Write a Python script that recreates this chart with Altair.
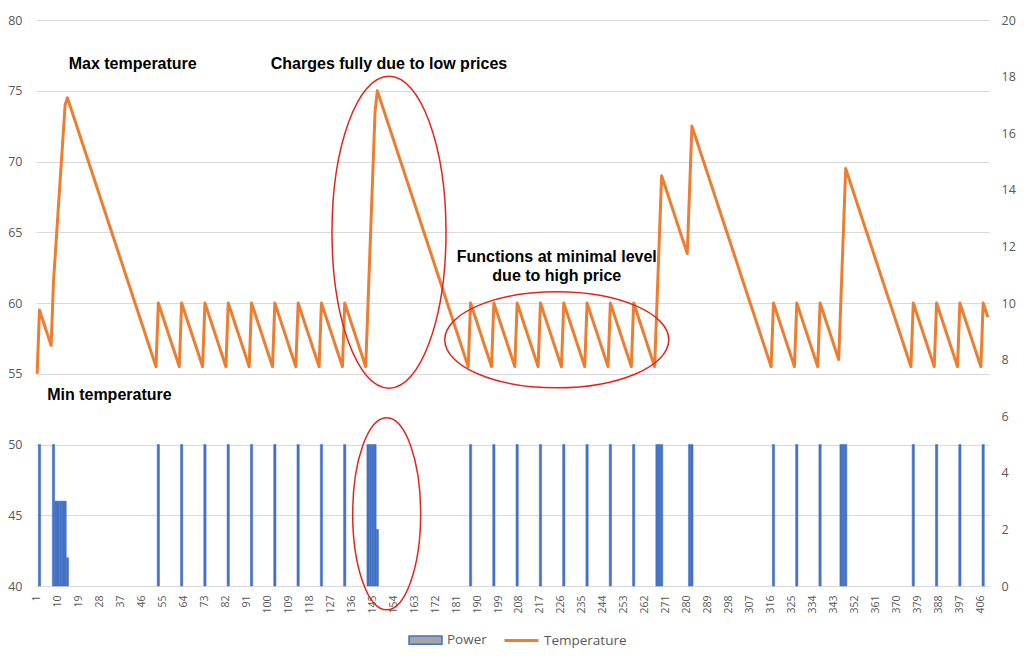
import altair as alt
import pandas as pd

# temperature at each time step (left axis)
temperature = [
    55, 59.5, 59, 58.5, 58, 57.5, 57, 61.5, 64, 66.5,
    69, 71.5, 74, 74.5, 74, 73.5, 73, 72.5, 72, 71.5,
    71, 70.5, 70, 69.5, 69, 68.5, 68, 67.5, 67, 66.5,
    66, 65.5, 65, 64.5, 64, 63.5, 63, 62.5, 62, 61.5,
    61, 60.5, 60, 59.5, 59, 58.5, 58, 57.5, 57, 56.5,
    56, 55.5, 60, 59.5, 59, 58.5, 58, 57.5, 57, 56.5,
    56, 55.5, 60, 59.5, 59, 58.5, 58, 57.5, 57, 56.5,
    56, 55.5, 60, 59.5, 59, 58.5, 58, 57.5, 57, 56.5,
    56, 55.5, 60, 59.5, 59, 58.5, 58, 57.5, 57, 56.5,
    56, 55.5, 60, 59.5, 59, 58.5, 58, 57.5, 57, 56.5,
    56, 55.5, 60, 59.5, 59, 58.5, 58, 57.5, 57, 56.5,
    56, 55.5, 60, 59.5, 59, 58.5, 58, 57.5, 57, 56.5,
    56, 55.5, 60, 59.5, 59, 58.5, 58, 57.5, 57, 56.5,
    56, 55.5, 60, 59.5, 59, 58.5, 58, 57.5, 57, 56.5,
    56, 55.5, 60, 64.5, 69, 73.5, 75, 74.5, 74, 73.5,
    73, 72.5, 72, 71.5, 71, 70.5, 70, 69.5, 69, 68.5,
    68, 67.5, 67, 66.5, 66, 65.5, 65, 64.5, 64, 63.5,
    63, 62.5, 62, 61.5, 61, 60.5, 60, 59.5, 59, 58.5,
    58, 57.5, 57, 56.5, 56, 55.5, 60, 59.5, 59, 58.5,
    58, 57.5, 57, 56.5, 56, 55.5, 60, 59.5, 59, 58.5,
    58, 57.5, 57, 56.5, 56, 55.5, 60, 59.5, 59, 58.5,
    58, 57.5, 57, 56.5, 56, 55.5, 60, 59.5, 59, 58.5,
    58, 57.5, 57, 56.5, 56, 55.5, 60, 59.5, 59, 58.5,
    58, 57.5, 57, 56.5, 56, 55.5, 60, 59.5, 59, 58.5,
    58, 57.5, 57, 56.5, 56, 55.5, 60, 59.5, 59, 58.5,
    58, 57.5, 57, 56.5, 56, 55.5, 60, 59.5, 59, 58.5,
    58, 57.5, 57, 56.5, 56, 55.5, 60, 64.5, 69, 68.5,
    68, 67.5, 67, 66.5, 66, 65.5, 65, 64.5, 64, 63.5,
    68, 72.5, 72, 71.5, 71, 70.5, 70, 69.5, 69, 68.5,
    68, 67.5, 67, 66.5, 66, 65.5, 65, 64.5, 64, 63.5,
    63, 62.5, 62, 61.5, 61, 60.5, 60, 59.5, 59, 58.5,
    58, 57.5, 57, 56.5, 56, 55.5, 60, 59.5, 59, 58.5,
    58, 57.5, 57, 56.5, 56, 55.5, 60, 59.5, 59, 58.5,
    58, 57.5, 57, 56.5, 56, 55.5, 60, 59.5, 59, 58.5,
    58, 57.5, 57, 56.5, 56, 60.5, 65, 69.5, 69, 68.5,
    68, 67.5, 67, 66.5, 66, 65.5, 65, 64.5, 64, 63.5,
    63, 62.5, 62, 61.5, 61, 60.5, 60, 59.5, 59, 58.5,
    58, 57.5, 57, 56.5, 56, 55.5, 60, 59.5, 59, 58.5,
    58, 57.5, 57, 56.5, 56, 55.5, 60, 59.5, 59, 58.5,
    58, 57.5, 57, 56.5, 56, 55.5, 60, 59.5, 59, 58.5,
    58, 57.5, 57, 56.5, 56, 55.5, 60, 59.5, 59,
]
steps = list(range(1, len(temperature) + 1))

# power (right axis), only the steps where the heater runs
power_steps = [2, 8, 9, 10, 11, 12, 13, 14,
               53, 63, 73, 83, 93, 103, 113, 123, 133,
               143, 144, 145, 146, 147,
               187, 197, 207, 217, 227, 237, 247, 257,
               267, 268, 269, 281, 282,
               317, 327, 337, 346, 347, 348,
               377, 387, 397, 407]
power = [5, 5, 3, 3, 3, 3, 3, 1,
         5, 5, 5, 5, 5, 5, 5, 5, 5,
         5, 5, 5, 5, 2,
         5, 5, 5, 5, 5, 5, 5, 5,
         5, 5, 5, 5, 5,
         5, 5, 5, 5, 5, 5,
         5, 5, 5, 5]

tick_labels = [1, 10, 19, 28, 37, 46, 55, 64, 73, 82, 91, 100, 109, 118, 127,
               136, 145, 154, 163, 172, 181, 190, 199, 208, 217, 226, 235, 244,
               253, 262, 271, 280, 289, 298, 307, 316, 325, 334, 343, 352, 361,
               370, 379, 388, 397, 406]
temp_ticks = [40, 45, 50, 55, 60, 65, 70, 75, 80]
power_ticks = [0, 2, 4, 6, 8, 10, 12, 14, 16, 18, 20]

# annotations (step, temperature)
note_text = ["Max temperature", "Charges fully due to low prices",
             "Functions at minimal level\ndue to high price", "Min temperature"]
note_step = [42, 152, 224, 32]
note_temp = [76.9, 76.9, 63.25, 53.5]

# red ellipses: centre (step, temperature), radii in px
ell_step = [152, 224, 151]
ell_temp = [65, 57.4, 45.1]
ell_rx = [57, 112, 34]
ell_ry = [156, 48, 96]

BLUE = "#4472C4"
ORANGE = "#ED7D31"
GREY = "#595959"
FONT = "Open Sans"


def ellipse_path(rx, ry):
    r = max(rx, ry)
    a, b = rx / r, ry / r
    return f"M{-a},0A{a},{b} 0 1,0 {a},0A{a},{b} 0 1,0 {-a},0Z"


temp_df = pd.DataFrame({"step": steps, "temp": temperature, "series": "Temperature"})
power_df = pd.DataFrame({"step": power_steps, "power": power, "series": "Power"})
note_df = pd.DataFrame({"step": note_step, "temp": note_temp, "label": note_text})
ell_df = pd.DataFrame({
    "step": ell_step,
    "temp": ell_temp,
    "shape": [ellipse_path(rx, ry) for rx, ry in zip(ell_rx, ell_ry)],
    "size": [(2 * max(rx, ry)) ** 2 for rx, ry in zip(ell_rx, ell_ry)],
})

x_enc = alt.X(
    "step:O",
    scale=alt.Scale(domain=steps, paddingInner=0, paddingOuter=0),
    axis=alt.Axis(values=tick_labels, labelAngle=270, labelFont=FONT,
                  labelFontSize=10.5, labelColor=GREY, labelPadding=9,
                  ticks=False, grid=False, domainColor="#d9d9d9",
                  labelOverlap=False, title=None),
)
temp_scale = alt.Scale(domain=[40, 80], nice=False, zero=False)
temp_axis = alt.Axis(orient="left", values=temp_ticks, ticks=False, domain=False,
                     grid=True, gridColor="#d9d9d9", labelFont=FONT,
                     labelFontSize=12.5, labelColor=GREY, labelPadding=14,
                     title=None)
temp_y = alt.Y("temp:Q", scale=temp_scale, axis=temp_axis)

bars = alt.Chart(power_df).mark_bar(strokeWidth=0.5).encode(
    x=x_enc,
    y=alt.Y("power:Q", scale=alt.Scale(domain=[0, 20], nice=False),
            axis=alt.Axis(orient="right", values=power_ticks, grid=False,
                          ticks=False, domain=False, labelFont=FONT,
                          labelFontSize=12.5, labelColor=GREY, labelPadding=12,
                          title=None)),
    fill=alt.Fill("series:N", scale=alt.Scale(range=[BLUE]), legend=None),
    stroke=alt.Stroke("series:N", scale=alt.Scale(domain=["Power"], range=[BLUE]),
                      legend=alt.Legend(orient="none", legendX=372, legendY=602.5,
                                        title=None, symbolType="M-1,-0.25H1V0.25H-1Z",
                                        symbolSize=1089, symbolFillColor="#A6A6A6",
                                        symbolStrokeWidth=1.5, labelFont=FONT,
                                        labelFontSize=13.5, labelColor=GREY,
                                        labelOffset=4)),
)

line = alt.Chart(temp_df).mark_line(strokeWidth=3, strokeJoin="round").encode(
    x=x_enc,
    y=temp_y,
    color=alt.Color("series:N", scale=alt.Scale(domain=["Temperature"], range=[ORANGE]),
                    legend=alt.Legend(orient="none", legendX=467, legendY=602,
                                      title=None, symbolType="stroke",
                                      symbolSize=1156, symbolStrokeWidth=3,
                                      labelFont=FONT, labelFontSize=13.5,
                                      labelColor=GREY, labelOffset=4)),
)

ellipses = alt.Chart(ell_df).mark_point(
    filled=False, color="#E3261C", strokeWidth=1.5, opacity=1
).encode(
    x=x_enc,
    y=temp_y,
    shape=alt.Shape("shape:N", scale=None),
    size=alt.Size("size:Q", scale=None),
)

notes = alt.Chart(note_df).mark_text(
    font="Liberation Sans", fontSize=16, fontWeight="bold", color="black",
    align="center", baseline="middle", lineBreak="\n", lineHeight=19,
).encode(
    x=x_enc,
    y=temp_y,
    text="label:N",
)

chart = alt.layer(
    bars, alt.layer(line, ellipses, notes)
).resolve_scale(
    y="independent"
).properties(
    width=953, height=566,
    autosize=alt.AutoSizeParams(type="none"),
    padding={"left": 28, "top": 12, "right": 27, "bottom": 63},
).configure_view(stroke=None)

chart.save("out.html", embed_options={"renderer": "svg", "actions": False})
